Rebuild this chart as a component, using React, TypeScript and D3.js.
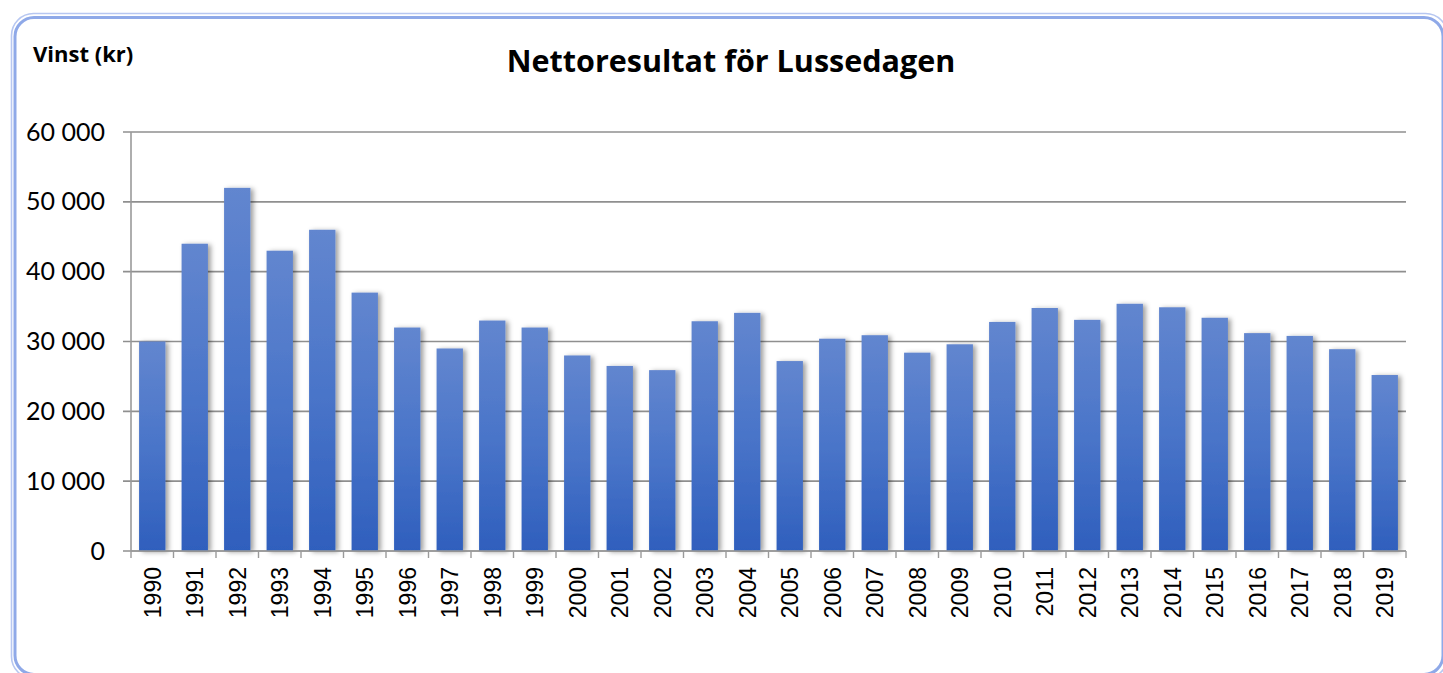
import React from "react";
import * as d3 from "d3";

const years: string[] = [
  "1990", "1991", "1992", "1993", "1994", "1995", "1996", "1997", "1998", "1999",
  "2000", "2001", "2002", "2003", "2004", "2005", "2006", "2007", "2008", "2009",
  "2010", "2011", "2012", "2013", "2014", "2015", "2016", "2017", "2018", "2019",
];
const profit: number[] = [
  30000, 44000, 52000, 43000, 46000, 37000, 32000, 29000, 33000, 32000,
  28000, 26500, 25900, 32900, 34100, 27200, 30400, 30900, 28400, 29600,
  32800, 34800, 33100, 35400, 34900, 33400, 31200, 30800, 28900, 25200,
];
const yTicks: number[] = [0, 10000, 20000, 30000, 40000, 50000, 60000];
const title = "Nettoresultat för Lussedagen";
const yAxisTitle = "Vinst (kr)";

const W = 1443;
const H = 673;
const left = 131;
const right = 1406;
const top = 132;
const bottom = 551;

const locale = d3.formatLocale({
  decimal: ",",
  thousands: " ",
  grouping: [3],
  currency: ["", " kr"],
});
const fmt = locale.format(",");

export default function App() {
  const x = d3
    .scaleBand<string>()
    .domain(years)
    .range([left, right])
    .paddingInner(0.38)
    .paddingOuter(0.19);
  const y = d3.scaleLinear().domain([0, 60000]).range([bottom, top]);
  const step = x.step();
  const boundaries = d3.range(years.length + 1).map((i) => left + i * step);

  return (
    <svg
      width={W}
      height={H}
      style={{ position: "absolute", left: 0, top: 0, background: "#fff" }}
    >
      <defs>
        <linearGradient id="barGrad" x1="0" y1="0" x2="0" y2="1">
          <stop offset="0%" stopColor="#6286cf" />
          <stop offset="50%" stopColor="#4a75c9" />
          <stop offset="100%" stopColor="#2f5fbd" />
        </linearGradient>
        <filter id="shadow" x="-30%" y="-10%" width="160%" height="120%">
          <feDropShadow dx="3" dy="1" stdDeviation="2.8" floodColor="#000" floodOpacity="0.38" />
        </filter>
      </defs>

      {/* frame */}
      <rect x={11.5} y={13.5} width={1436} height={665} rx={22} ry={22} fill="none" stroke="#b7c7f1" strokeWidth={1.6} />
      <rect x={15} y={17.5} width={1428} height={657} rx={19} ry={19} fill="none" stroke="#8fa9e8" strokeWidth={3} />

      {/* title */}
      <text x={731} y={72} textAnchor="middle" fontFamily="'Open Sans', Lato, sans-serif" fontWeight={700} fontSize={30.5} fill="#000">
        {title}
      </text>
      <text x={33} y={62} fontFamily="'Open Sans', Lato, sans-serif" fontWeight={700} fontSize={22} fill="#000">
        {yAxisTitle}
      </text>

      {/* gridlines */}
      {yTicks.map((t) => (
        <g key={t}>
          <line x1={123} x2={right} y1={y(t)} y2={y(t)} stroke="#8f8f8f" strokeWidth={1.6} />
          <text x={105} y={y(t) + 8.5} textAnchor="end" fontFamily="Lato, sans-serif" fontSize={25} fill="#000">
            {fmt(t)}
          </text>
        </g>
      ))}

      {/* y axis line */}
      <line x1={left} x2={left} y1={top} y2={bottom} stroke="#9a9a9a" strokeWidth={1.6} />

      {/* bars */}
      <g filter="url(#shadow)">
        {years.map((yr, i) => (
          <rect
            key={yr}
            x={x(yr)}
            y={y(profit[i])}
            width={x.bandwidth()}
            height={bottom - y(profit[i])}
            fill="url(#barGrad)"
          />
        ))}
      </g>

      {/* x axis */}
      <line x1={left} x2={right} y1={bottom} y2={bottom} stroke="#9a9a9a" strokeWidth={1.6} />
      {boundaries.map((b, i) => (
        <line key={i} x1={b} x2={b} y1={bottom} y2={bottom + 7} stroke="#9a9a9a" strokeWidth={1.4} />
      ))}
      {years.map((yr) => {
        const cx = (x(yr) as number) + x.bandwidth() / 2;
        return (
          <text
            key={yr}
            transform={`translate(${cx},${567}) rotate(-90)`}
            textAnchor="end"
            dy="0.36em"
            fontFamily="'Liberation Sans', Arial, sans-serif"
            fontSize={23}
            fill="#000"
          >
            {yr}
          </text>
        );
      })}
    </svg>
  );
}
